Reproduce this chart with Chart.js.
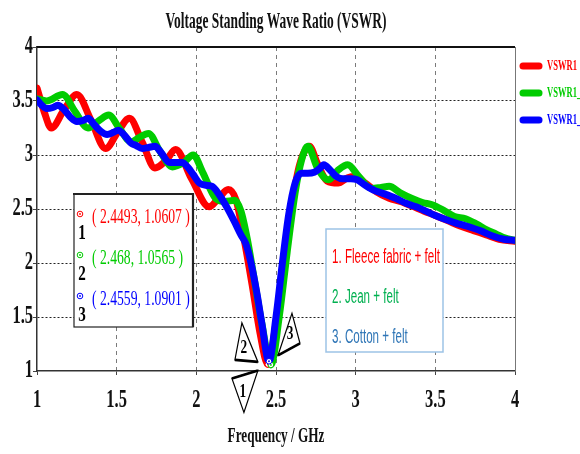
<!DOCTYPE html>
<html>
<head>
<meta charset="utf-8">
<script src="https://cdn.jsdelivr.net/npm/chart.js@4.4.1/dist/chart.umd.min.js"></script>
<style>
  html, body { margin: 0; padding: 0; background: #fff; }
  #wrap { width: 580px; height: 454px; }
</style>
</head>
<body>
<div id="wrap"><canvas id="vswr"></canvas></div>
<script>
  // Axis ticks (GHz and VSWR)
  var xTicks = [1, 1.5, 2, 2.5, 3, 3.5, 4];
  var yTicks = [1, 1.5, 2, 2.5, 3, 3.5, 4];

  var seriesLabels = ["VSWR1", "VSWR1_1", "VSWR1_2"];
  var seriesColors = ["#ff0000", "#00cc00", "#0000ff"];
  var materials = ["1. Fleece fabric + felt", "2. Jean + felt", "3. Cotton + felt"];
  var materialColors = ["#ff0000", "#00b050", "#2e75b6"];

  // Resonance markers m1..m3 (frequency, VSWR)
  var markerFreq = [2.4493, 2.468, 2.4559];
  var markerVswr = [1.0607, 1.0565, 1.0901];

  // Fleece fabric + felt
  var fleeceFreq = [1.00, 1.045, 1.09, 1.17, 1.25, 1.34, 1.43, 1.51, 1.58, 1.66, 1.74, 1.81, 1.87, 1.97, 2.08, 2.14, 2.20, 2.25, 2.30, 2.35, 2.40, 2.4493, 2.50, 2.55, 2.60, 2.65, 2.71, 2.76, 2.82, 2.89, 2.95, 3.00, 3.06, 3.13, 3.21, 3.28, 3.35, 3.43, 3.50, 3.58, 3.66, 3.74, 3.82, 3.90, 4.00];
  var fleeceVswr = [3.62, 3.40, 3.25, 3.42, 3.56, 3.32, 3.06, 3.22, 3.34, 3.12, 2.88, 2.95, 3.05, 2.78, 2.52, 2.60, 2.68, 2.58, 2.22, 1.80, 1.35, 1.0607, 1.45, 2.05, 2.55, 2.92, 3.08, 2.92, 2.76, 2.74, 2.79, 2.80, 2.74, 2.66, 2.60, 2.57, 2.53, 2.48, 2.44, 2.39, 2.34, 2.30, 2.26, 2.22, 2.20];

  // Jean + felt
  var jeanFreq = [1.00, 1.06, 1.16, 1.24, 1.32, 1.39, 1.45, 1.52, 1.59, 1.64, 1.70, 1.77, 1.85, 1.92, 1.98, 2.04, 2.12, 2.18, 2.24, 2.28, 2.32, 2.36, 2.41, 2.468, 2.52, 2.57, 2.62, 2.66, 2.70, 2.76, 2.83, 2.89, 2.95, 3.02, 3.10, 3.16, 3.21, 3.28, 3.35, 3.42, 3.48, 3.55, 3.62, 3.69, 3.76, 3.82, 3.88, 3.94, 4.00];
  var jeanVswr = [3.52, 3.50, 3.56, 3.40, 3.25, 3.32, 3.37, 3.24, 3.12, 3.16, 3.20, 3.04, 2.89, 2.93, 3.00, 2.84, 2.60, 2.57, 2.58, 2.48, 2.22, 1.88, 1.45, 1.0565, 1.50, 2.10, 2.65, 2.95, 3.08, 2.88, 2.77, 2.86, 2.91, 2.80, 2.69, 2.70, 2.71, 2.65, 2.60, 2.56, 2.54, 2.49, 2.43, 2.41, 2.36, 2.31, 2.27, 2.23, 2.21];

  // Cotton + felt
  var cottonFreq = [1.00, 1.03, 1.06, 1.10, 1.13, 1.17, 1.21, 1.25, 1.29, 1.32, 1.36, 1.40, 1.44, 1.48, 1.51, 1.55, 1.59, 1.62, 1.66, 1.70, 1.74, 1.78, 1.83, 1.88, 1.91, 1.95, 1.98, 2.02, 2.06, 2.10, 2.14, 2.19, 2.24, 2.28, 2.31, 2.34, 2.38, 2.41, 2.4559, 2.50, 2.54, 2.58, 2.62, 2.66, 2.70, 2.74, 2.77, 2.80, 2.84, 2.88, 2.92, 2.97, 3.01, 3.06, 3.12, 3.18, 3.25, 3.32, 3.38, 3.44, 3.50, 3.57, 3.63, 3.70, 3.78, 3.86, 3.93, 4.00];
  var cottonVswr = [3.51, 3.46, 3.43, 3.44, 3.46, 3.42, 3.35, 3.31, 3.32, 3.34, 3.28, 3.22, 3.19, 3.21, 3.23, 3.18, 3.11, 3.09, 3.06, 3.07, 3.08, 3.02, 2.93, 2.93, 2.93, 2.88, 2.82, 2.74, 2.72, 2.71, 2.64, 2.52, 2.38, 2.26, 2.18, 2.02, 1.72, 1.45, 1.0901, 1.50, 2.00, 2.45, 2.74, 2.83, 2.83, 2.84, 2.87, 2.91, 2.86, 2.80, 2.78, 2.78, 2.77, 2.72, 2.67, 2.64, 2.60, 2.55, 2.52, 2.48, 2.44, 2.40, 2.37, 2.34, 2.30, 2.25, 2.22, 2.21];

  function pairs(xs, ys) {
    return xs.map(function (x, i) { return { x: x, y: ys[i] }; });
  }

  var SERIF = '"Liberation Serif", "Times New Roman", serif';
  var SANS = '"Liberation Sans", Arial, sans-serif';

  // Narrow text: the plot uses squeezed Times-style lettering.
  function squeezed(ctx, text, x, y, font, color, sx, align) {
    ctx.save();
    ctx.font = font;
    ctx.fillStyle = color;
    ctx.textBaseline = "middle";
    ctx.textAlign = align || "center";
    ctx.translate(x, y);
    ctx.scale(sx, 1);
    ctx.fillText(text, 0, 0);
    ctx.restore();
  }

  function ringMarker(ctx, x, y, color) {
    ctx.save();
    ctx.fillStyle = "#fff";
    ctx.strokeStyle = color;
    ctx.lineWidth = 1;
    ctx.beginPath();
    ctx.arc(x, y, 2.8, 0, Math.PI * 2);
    ctx.fill();
    ctx.stroke();
    ctx.fillStyle = color;
    ctx.beginPath();
    ctx.arc(x, y, 0.9, 0, Math.PI * 2);
    ctx.fill();
    ctx.restore();
  }

  // Flag triangle next to a marker; pts are offsets from the marker pixel,
  // the first edge (pts[0] -> pts[1]) is drawn heavier.
  function flag(ctx, px, py, pts, label, lx, ly) {
    ctx.save();
    ctx.lineJoin = "miter";
    ctx.fillStyle = "#fff";
    ctx.strokeStyle = "#000";
    ctx.lineWidth = 1.2;
    ctx.beginPath();
    ctx.moveTo(px + pts[0][0], py + pts[0][1]);
    ctx.lineTo(px + pts[1][0], py + pts[1][1]);
    ctx.lineTo(px + pts[2][0], py + pts[2][1]);
    ctx.closePath();
    ctx.fill();
    ctx.stroke();
    ctx.lineWidth = 2.6;
    ctx.beginPath();
    ctx.moveTo(px + pts[0][0], py + pts[0][1]);
    ctx.lineTo(px + pts[1][0], py + pts[1][1]);
    ctx.stroke();
    ctx.restore();
    squeezed(ctx, label, px + lx, py + ly, "bold 19px " + SERIF, "#000", 0.7, "center");
  }

  var decorations = {
    id: "decorations",
    afterDraw: function (chart) {
      var ctx = chart.ctx;
      var area = chart.chartArea;
      var xs = chart.scales.x;
      var ys = chart.scales.y;

      // frame top and right
      ctx.save();
      ctx.strokeStyle = "#111";
      ctx.lineWidth = 2;
      ctx.beginPath();
      ctx.moveTo(area.left, area.top);
      ctx.lineTo(area.right, area.top);
      ctx.stroke();
      ctx.strokeStyle = "#777";
      ctx.lineWidth = 1;
      ctx.beginPath();
      ctx.moveTo(area.right + 0.5, area.top);
      ctx.lineTo(area.right + 0.5, area.bottom);
      ctx.stroke();
      ctx.restore();

      // title and axis labels
      squeezed(ctx, "Voltage Standing Wave Ratio (VSWR)", (area.left + area.right) / 2, 22, "bold 23px " + SERIF, "#111", 0.585, "center");
      squeezed(ctx, "Frequency / GHz", (area.left + area.right) / 2, 437, "bold 21px " + SERIF, "#111", 0.63, "center");
      xTicks.forEach(function (v) {
        squeezed(ctx, String(v), xs.getPixelForValue(v), 401, "bold 25px " + SERIF, "#111", 0.66, "center");
      });
      yTicks.forEach(function (v) {
        squeezed(ctx, String(v), 33, ys.getPixelForValue(v), "bold 25px " + SERIF, "#111", 0.66, "right");
      });

      // legend on the right
      chart.data.datasets.forEach(function (ds, i) {
        var ly = 66 + i * 27;
        ctx.save();
        ctx.strokeStyle = ds.borderColor;
        ctx.lineWidth = 7;
        ctx.lineCap = "round";
        ctx.beginPath();
        ctx.moveTo(523, ly);
        ctx.lineTo(539, ly);
        ctx.stroke();
        ctx.restore();
        squeezed(ctx, ds.label, 547, ly, "bold 15px " + SERIF, ds.borderColor, 0.57, "left");
      });

      // marker readout box
      ctx.save();
      ctx.fillStyle = "#fff";
      ctx.fillRect(74, 194, 119, 133);
      ctx.strokeStyle = "#222";
      ctx.lineWidth = 1.2;
      ctx.strokeRect(74, 194, 119, 133);
      ctx.lineWidth = 2.2;
      ctx.beginPath();
      ctx.moveTo(73, 194);
      ctx.lineTo(193, 194);
      ctx.lineTo(193, 327);
      ctx.stroke();
      ctx.restore();
      var rowY = [217, 258, 299];
      markerFreq.forEach(function (f, i) {
        var text = "( " + f + ", " + markerVswr[i] + " )";
        ringMarker(ctx, 80, rowY[i] - 3, seriesColors[i]);
        squeezed(ctx, String(i + 1), 82, rowY[i] + 17, "bold 21px " + SERIF, "#000", 0.72, "center");
        squeezed(ctx, text, 92, rowY[i], "21px " + SERIF, seriesColors[i], 0.65, "left");
      });

      // material box
      ctx.save();
      ctx.fillStyle = "#fff";
      ctx.fillRect(326, 229, 117, 123);
      ctx.strokeStyle = "#9dc3e6";
      ctx.lineWidth = 1.5;
      ctx.strokeRect(326, 229, 117, 123);
      ctx.restore();
      materials.forEach(function (m, i) {
        squeezed(ctx, m, 332, 257 + i * 40, "20px " + SANS, materialColors[i], 0.58, "left");
      });

      // marker flags at the resonance dip
      var p = markerFreq.map(function (f, i) {
        return [xs.getPixelForValue(f), ys.getPixelForValue(markerVswr[i])];
      });
      flag(ctx, p[0][0], p[0][1], [[-36, 14], [-10, 6], [-24, 48]], "1", -25, 28);
      flag(ctx, p[1][0], p[1][1], [[-36, -5], [-13, -3], [-29, -42]], "2", -27, -17);
      flag(ctx, p[2][0], p[2][1], [[9, -6], [31, -18], [23, -48]], "3", 21, -27);
      p.forEach(function (pt, i) {
        ringMarker(ctx, pt[0], pt[1], seriesColors[i]);
      });
    }
  };

  function edgeClear(color) {
    return function (c) {
      var v = c.tick && c.tick.value;
      return (v === 1 || v === 4) ? "rgba(0,0,0,0)" : color;
    };
  }

  new Chart(document.getElementById("vswr"), {
    type: "line",
    data: {
      datasets: [
        { label: seriesLabels[0], data: pairs(fleeceFreq, fleeceVswr), borderColor: seriesColors[0], order: 3 },
        { label: seriesLabels[1], data: pairs(jeanFreq, jeanVswr), borderColor: seriesColors[1], order: 2 },
        { label: seriesLabels[2], data: pairs(cottonFreq, cottonVswr), borderColor: seriesColors[2], order: 1 }
      ]
    },
    options: {
      responsive: true,
      maintainAspectRatio: false,
      animation: false,
      parsing: false,
      layout: { autoPadding: false, padding: { left: 33, right: 65, top: 47, bottom: 79 } },
      elements: {
        line: { borderWidth: 7, cubicInterpolationMode: "monotone", borderCapStyle: "round", borderJoinStyle: "round" },
        point: { radius: 0, hoverRadius: 0 }
      },
      plugins: { legend: { display: false }, title: { display: false }, tooltip: { enabled: false } },
      scales: {
        x: {
          type: "linear", min: 1, max: 4,
          ticks: { display: false, stepSize: 0.5 },
          grid: { color: edgeClear("#7a7a7a"), lineWidth: 1, tickLength: 4, tickColor: "#444" },
          border: { display: true, color: "#333", width: 1.5, dash: [4, 4] }
        },
        y: {
          type: "linear", min: 1, max: 4,
          ticks: { display: false, stepSize: 0.5 },
          grid: { color: edgeClear("#222"), lineWidth: 1, tickLength: 4, tickColor: "#444" },
          border: { display: true, color: "#333", width: 1.5, dash: [2, 2] }
        }
      }
    },
    plugins: [decorations]
  });
</script>
</body>
</html>
